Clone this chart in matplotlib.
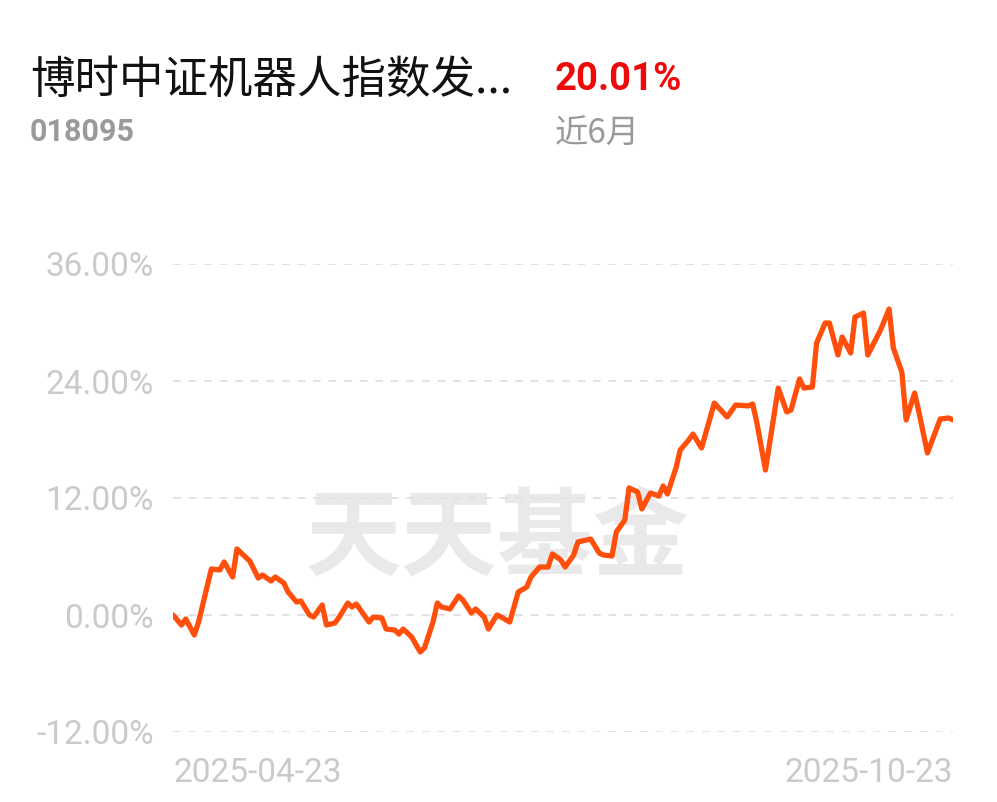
import numpy as np
import matplotlib
matplotlib.use("Agg")
import matplotlib.pyplot as plt

plt.rcParams['font.family'] = ['Noto Sans CJK SC', 'DejaVu Sans']

# fund info
fund_name = "博时中证机器人指数发..."
fund_code = "018095"
period_return = "20.01%"
period_label = "近6月"

start_date = np.datetime64('2025-04-23')
# days since start date, and cumulative return (%)
days = [0, 2, 3, 5, 6, 9, 11, 12, 14, 15, 17, 18, 20, 21, 23, 24, 26, 27, 29, 30,
        32, 33, 35, 36, 38, 39, 41, 42, 43, 46, 47, 49, 50, 52, 53, 54, 56, 58, 59, 61,
        62, 63, 65, 67, 68, 70, 71, 73, 74, 76, 77, 79, 81, 83, 84, 86, 88, 89, 91, 92,
        94, 95, 98, 100, 101, 103, 104, 106, 107, 109, 110, 112, 114, 115, 116, 118, 119, 121, 122, 124,
        127, 130, 132, 135, 136, 137, 139, 142, 144, 145, 147, 148, 150, 151, 153, 154, 156, 157, 159, 160,
        162, 163, 166, 168, 169, 171, 172, 174, 175, 177, 180, 182, 183]
returns = [0.00, -1.03, -0.41, -2.05, -0.72, 4.72, 4.62, 5.44, 3.90, 6.77, 5.95, 5.54, 3.79, 4.10, 3.49, 3.90, 3.28, 2.36, 1.33, 1.44,
           0.00, -0.21, 1.03, -1.03, -0.82, -0.21, 1.23, 0.82, 1.13, -0.72, -0.21, -0.31, -1.44, -1.54, -1.95, -1.44, -2.26, -3.79, -3.38, -0.72,
           1.23, 0.82, 0.62, 1.95, 1.54, 0.21, 0.62, -0.21, -1.44, 0.00, -0.21, -0.72, 2.36, 2.87, 3.90, 4.92, 4.92, 6.26, 5.64, 4.92,
           6.15, 7.49, 7.79, 6.36, 6.15, 6.05, 8.51, 9.74, 13.03, 12.62, 10.87, 12.51, 12.21, 13.23, 12.41, 15.08, 16.92, 17.95, 18.56, 17.13,
           21.74, 20.31, 21.54, 21.44, 21.64, 19.69, 14.87, 23.28, 20.82, 21.03, 24.21, 23.28, 23.38, 27.90, 29.95, 29.95, 26.67, 28.51, 26.87, 30.56,
           30.97, 26.67, 29.23, 31.38, 27.38, 24.92, 20.00, 22.77, 20.82, 16.62, 20.10, 20.21, 20.01]
yticks = [-12, 0, 12, 24, 36]

dates = start_date + np.array(days).astype('timedelta64[D]')

fig = plt.figure(figsize=(9.97, 8.02), dpi=100)
ax = fig.add_axes([173/997, 1 - 732/802, 780/997, 468/802])

ax.plot(dates, returns, color='#ff4f0a', lw=3.8, solid_joinstyle='round', solid_capstyle='round', zorder=3)

ax.set_xlim(dates[0], dates[-1])
ax.set_ylim(-12, 36)
ax.set_yticks(yticks)
ax.set_yticklabels(['%.2f%%' % v for v in yticks])
ax.set_xticks([dates[0], dates[-1]])
ax.set_xticklabels([str(dates[0]), str(dates[-1])])
for lbl, ha in zip(ax.get_xticklabels(), ['left', 'right']):
    lbl.set_ha(ha)

ax.grid(axis='y', color='#e2e2e2', lw=1.4, ls=(0, (4, 4)))
ax.tick_params(length=0, labelsize=24, labelcolor='#cacaca')
ax.tick_params(axis='y', pad=14)
ax.tick_params(axis='x', pad=18)
for t in ax.get_yticklabels() + ax.get_xticklabels():
    t.set_family(['Roboto', 'DejaVu Sans'])
for s in ax.spines.values():
    s.set_visible(False)

# watermark
fig.text(497/997, 1 - 540/802, "天天基金", fontsize=69, fontweight='bold', color='#e9e9e9',
         ha='center', va='center', zorder=0)
ax.set_zorder(1)
ax.patch.set_alpha(0)

fig.text(30/997, 1 - 80/802, fund_name, fontsize=32, color='#111111', ha='left', va='center')
fig.text(30/997, 1 - 132/802, fund_code, fontsize=22, color='#9a9a9a', fontweight='bold',
         ha='left', va='center', family=['Roboto', 'DejaVu Sans'])
fig.text(555/997, 1 - 79/802, period_return, fontsize=27.5, color='#ee0a0a', fontweight='bold',
         ha='left', va='center', family=['Roboto', 'DejaVu Sans'])
fig.text(555/997, 1 - 134/802, period_label, fontsize=24, color='#9a9a9a', ha='left', va='center')

fig.savefig('out.png', dpi=100)
